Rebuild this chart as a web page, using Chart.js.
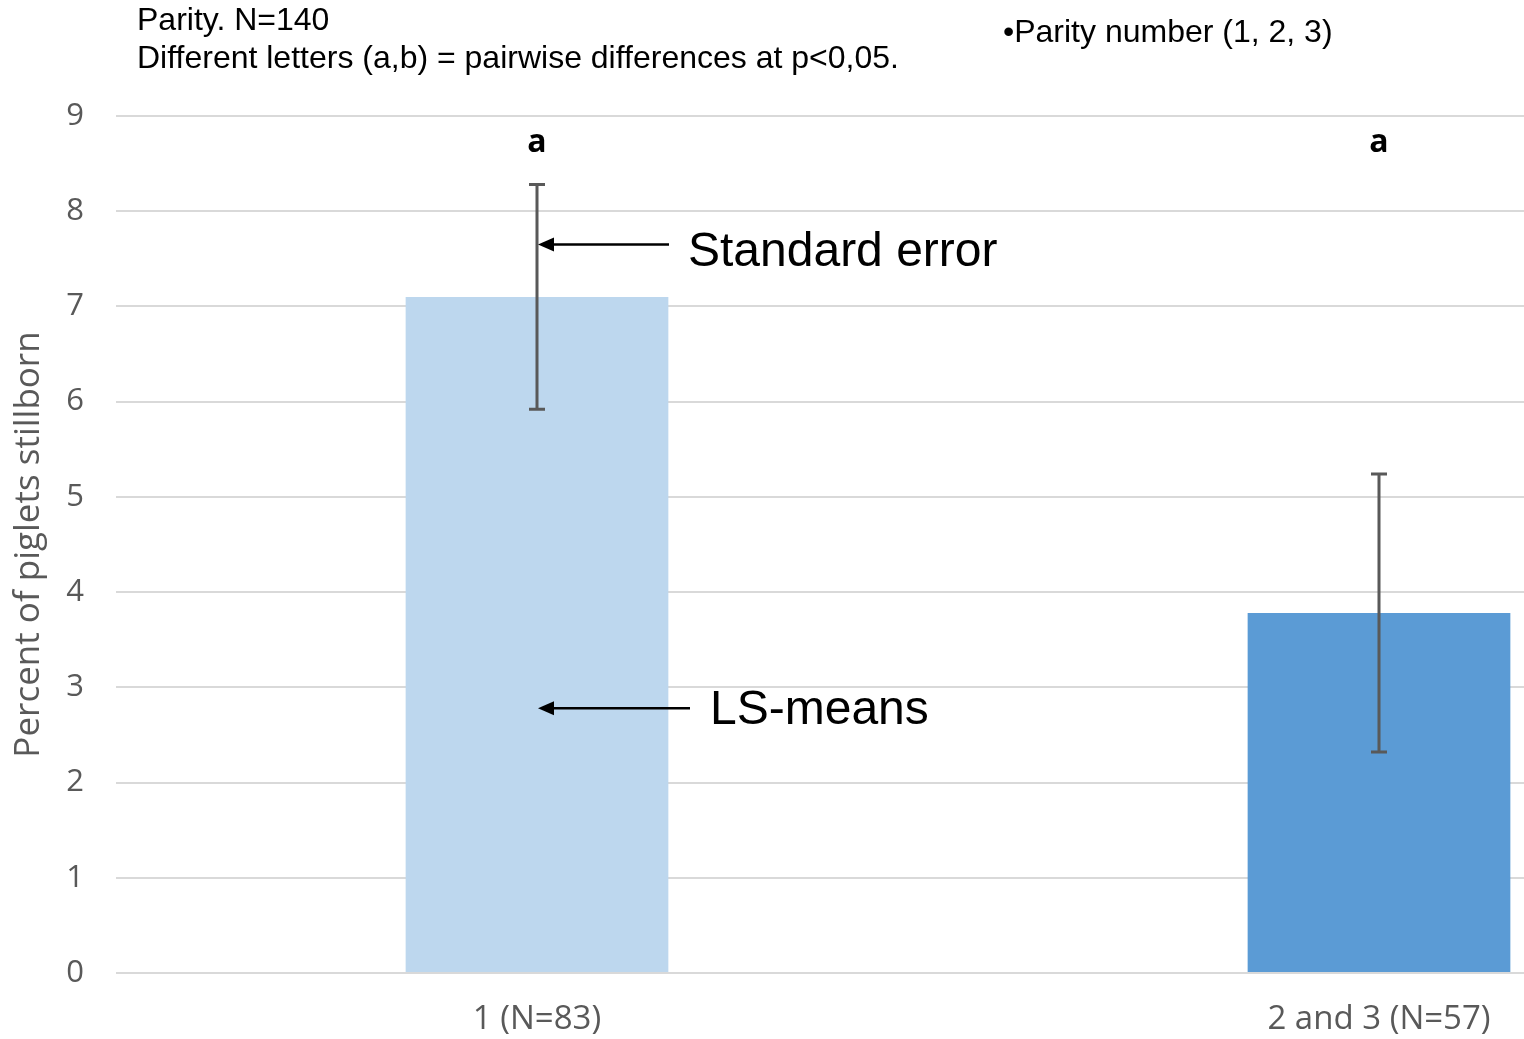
<!DOCTYPE html>
<html>
<head>
<meta charset="utf-8">
<script src="https://cdn.jsdelivr.net/npm/chart.js@4"></script>
<style>
  html, body { margin: 0; padding: 0; overflow: hidden; background: #fff; }
  #wrap { position: absolute; left: 0; top: 0; }
</style>
</head>
<body>
<div id="wrap"><canvas id="myChart" width="1800" height="1039"></canvas></div>
<script>
// data
const categories = ['1 (N=83)', '2 and 3 (N=57)'];
const lsMeans = [7.1, 3.78];
const stdErrors = [1.18, 1.46];
const letters = ['a', 'a'];
const barColors = ['#BDD7EE', '#5B9BD5'];
const yTicks = [0, 1, 2, 3, 4, 5, 6, 7, 8, 9];

// error bars + letters
const errorBars = {
  id: 'errorBars',
  afterDatasetsDraw(chart) {
    const ctx = chart.ctx;
    const y = chart.scales.y;
    const meta = chart.getDatasetMeta(0);
    ctx.save();
    ctx.strokeStyle = '#595959';
    ctx.lineWidth = 3;
    meta.data.forEach((bar, i) => {
      const top = y.getPixelForValue(lsMeans[i] + stdErrors[i]);
      const bot = y.getPixelForValue(lsMeans[i] - stdErrors[i]);
      ctx.beginPath();
      ctx.moveTo(bar.x, top);
      ctx.lineTo(bar.x, bot);
      ctx.moveTo(bar.x - 8, top);
      ctx.lineTo(bar.x + 8, top);
      ctx.moveTo(bar.x - 8, bot);
      ctx.lineTo(bar.x + 8, bot);
      ctx.stroke();

      ctx.fillStyle = '#000';
      ctx.font = 'bold 32px "Open Sans"';
      ctx.textAlign = 'center';
      ctx.textBaseline = 'middle';
      ctx.fillText(letters[i], bar.x, y.getPixelForValue(8.72));
    });
    ctx.restore();
  }
};

// text boxes and arrows on top of the chart
const notes = {
  id: 'notes',
  afterDraw(chart) {
    const ctx = chart.ctx;
    const y = chart.scales.y;
    const bar = chart.getDatasetMeta(0).data[0];
    ctx.save();
    ctx.fillStyle = '#000';
    ctx.textAlign = 'left';
    ctx.textBaseline = 'middle';
    ctx.font = '32px "Liberation Sans", Arial';
    ctx.fillText('Parity. N=140', 137, 21);
    ctx.fillText('Different letters (a,b) = pairwise differences at p<0,05.', 137, 59);
    ctx.fillText('\u2022Parity number (1, 2, 3)', 1003, 33);

    const arrow = (x1, x2, yy) => {
      ctx.strokeStyle = '#000';
      ctx.lineWidth = 2.5;
      ctx.beginPath();
      ctx.moveTo(x1, yy);
      ctx.lineTo(x2 + 10, yy);
      ctx.stroke();
      ctx.beginPath();
      ctx.moveTo(x2, yy);
      ctx.lineTo(x2 + 16, yy - 7);
      ctx.lineTo(x2 + 16, yy + 7);
      ctx.closePath();
      ctx.fill();
    };
    const seY = y.getPixelForValue(7.65);
    const lsY = y.getPixelForValue(2.78);
    arrow(669, bar.x + 1, seY);
    arrow(690, bar.x + 1, lsY);
    ctx.font = '48px "Liberation Sans", Arial';
    ctx.fillText('Standard error', 688, seY + 8);
    ctx.fillText('LS-means', 710, lsY + 2);
    ctx.restore();
  }
};

const ctx = document.getElementById('myChart').getContext('2d');
const chart = new Chart(ctx, {
  type: 'bar',
  data: {
    labels: categories,
    datasets: [{
      data: lsMeans,
      backgroundColor: barColors,
      borderWidth: 0,
      barPercentage: 0.312,
      categoryPercentage: 1
    }]
  },
  options: {
    responsive: false,
    animation: false,
    events: [],
    layout: { padding: { top: 116, left: 0, right: 0, bottom: 0 } },
    plugins: {
      legend: { display: false },
      tooltip: { enabled: false }
    },
    scales: {
      x: {
        grid: { display: false, drawTicks: false },
        border: { display: false },
        ticks: {
          color: '#595959',
          font: { family: '"Open Sans"', size: 33 },
          padding: 27
        },
        afterFit: (s) => { s.height = 66; }
      },
      y: {
        min: 0,
        max: 9,
        afterBuildTicks: (s) => { s.ticks = yTicks.map(v => ({ value: v })); },
        grid: { color: '#D9D9D9', lineWidth: 2, drawTicks: false },
        border: { display: false },
        ticks: {
          color: '#595959',
          font: { family: '"Open Sans"', size: 31 },
          padding: 32
        },
        title: {
          display: true,
          text: 'Percent of piglets stillborn',
          color: '#595959',
          font: { family: '"Open Sans"', size: 35 },
          padding: { top: 8, bottom: 0 }
        },
        afterFit: (s) => { s.width = 116; }
      }
    }
  },
  plugins: [errorBars, notes]
});
</script>
</body>
</html>
